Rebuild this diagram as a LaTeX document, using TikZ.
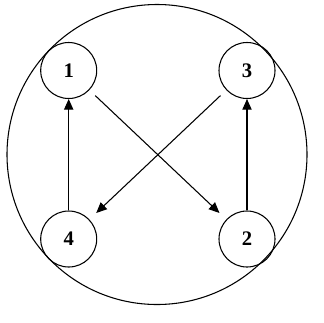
\documentclass[tikz,border=0pt]{standalone}
\usepackage{fontspec}
\setmainfont{Liberation Serif}
\usetikzlibrary{arrows.meta}

\tikzset{
  state/.style={circle, draw, thick, minimum size=42pt, inner sep=0pt, font=\fontsize{15.5}{18}\selectfont\bfseries},
  link/.style={thick, -{Triangle[length=8pt,width=7pt]}}
}

\begin{document}
\begin{tikzpicture}[x=0.75pt,y=-0.75pt]
		\useasboundingbox (0,0) rectangle (324,322);
		
		% Outer circle
		\draw[thick] (157,154.5) circle (112.5pt);
		
		% States
		\node[state] (n1) at (68.7,70.5) {1};
		\node[state] (n3) at (247,70.5) {3};
		\node[state] (n4) at (68.7,239) {4};
		\node[state] (n2) at (247,239) {2};
		
		% Transitions
		\draw[link] (n4) -- (n1);
		\draw[link] (n2) -- (n3);
		\draw[link, shorten <=6pt, shorten >=7pt] (n1) -- (n2);
		\draw[link, shorten <=6pt, shorten >=7pt] (n3) -- (n4);
		
	\end{tikzpicture}
\end{document}
